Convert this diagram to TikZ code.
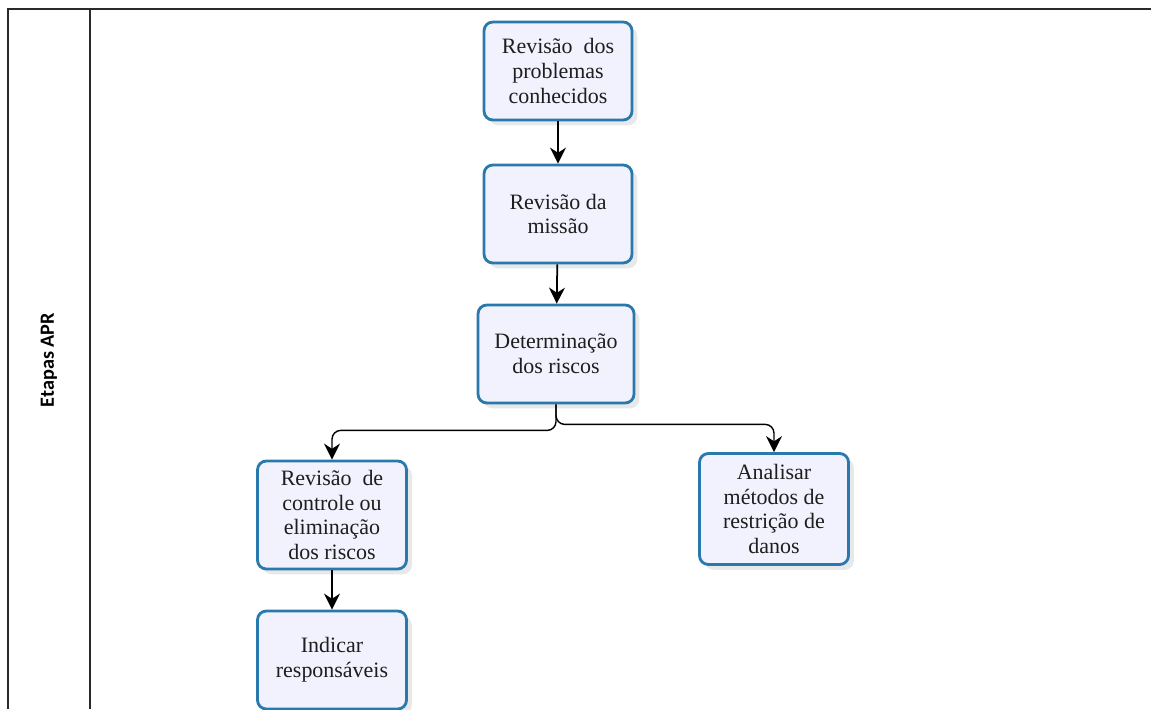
\documentclass[tikz,border=0pt]{standalone}
\usepackage{fontspec}
\setmainfont{Liberation Serif}
\newfontfamily\lanefont{Carlito}
\usetikzlibrary{arrows.meta, positioning, calc, shadows}
\definecolor{boxline}{HTML}{2A79AD}
\definecolor{boxfill}{HTML}{F1F2FD}
\definecolor{inktext}{HTML}{1E1E1E}
\definecolor{laneline}{HTML}{2A2A2A}
\tikzset{etapa/.style={draw=boxline, line width=1.6pt, rounded corners=5pt, fill=boxfill,
    drop shadow={shadow xshift=3pt, shadow yshift=-3pt, opacity=0.18},
    align=center, text=inktext, font=\fontsize{12.5}{14.2}\selectfont}}
\newcommand{\etapabox}[5]{%
  \node[etapa, minimum width=#3, minimum height=#4] (#1) at #2 {#5};}

\begin{document}
\begin{tikzpicture}[x=0.02cm, y=-0.02cm]
      \useasboundingbox (0,0) rectangle (1151,709);
      \clip (0,0) rectangle (1151,709);
      % swimlane
      \draw[laneline, line width=1pt] (8,709) -- (8,9) -- (1151,9);
      \draw[laneline, line width=1pt] (90,9) -- (90,709);
      \node[rotate=90, font=\lanefont\bfseries\fontsize{11.5}{13}\selectfont] (lane) at (49,360) {Etapas APR};
      % etapas
      \etapabox{e0}{(558,71)}{2.96cm}{1.96cm}{Revisão\ \ dos\\problemas\\conhecidos}
      \etapabox{e1}{(558,214)}{2.96cm}{1.96cm}{Revisão da\\missão}
      \etapabox{e2}{(556,354)}{3.12cm}{1.96cm}{Determinação\\dos riscos}
      \etapabox{e3}{(332,515)}{2.98cm}{2.16cm}{Revisão\ \ de\\controle ou\\eliminação\\dos riscos}
      \etapabox{e4}{(332,660)}{2.98cm}{1.96cm}{Indicar\\responsáveis}
      \etapabox{e5}{(774,509)}{2.98cm}{2.22cm}{Analisar\\métodos de\\restrição de\\danos}
      % ligacoes
      \draw[-{Stealth[length=3.2mm, width=3.2mm]}, line width=1pt] (e0) -- (e1);
      \draw[-{Stealth[length=3.2mm, width=3.2mm]}, line width=1pt] (e1) -- (e2);
      \draw[-{Stealth[length=3.2mm, width=3.2mm]}, line width=0.8pt, rounded corners=5pt]
        (e2.south) -- ++(0,26) -| (e3.north);
      \draw[-{Stealth[length=3.2mm, width=3.2mm]}, line width=0.8pt, rounded corners=5pt]
        (e2.south) -- ++(0,20) -| (e5.north);
      \draw[-{Stealth[length=3.2mm, width=3.2mm]}, line width=1pt] (e3) -- (e4);
    \end{tikzpicture}
\end{document}
